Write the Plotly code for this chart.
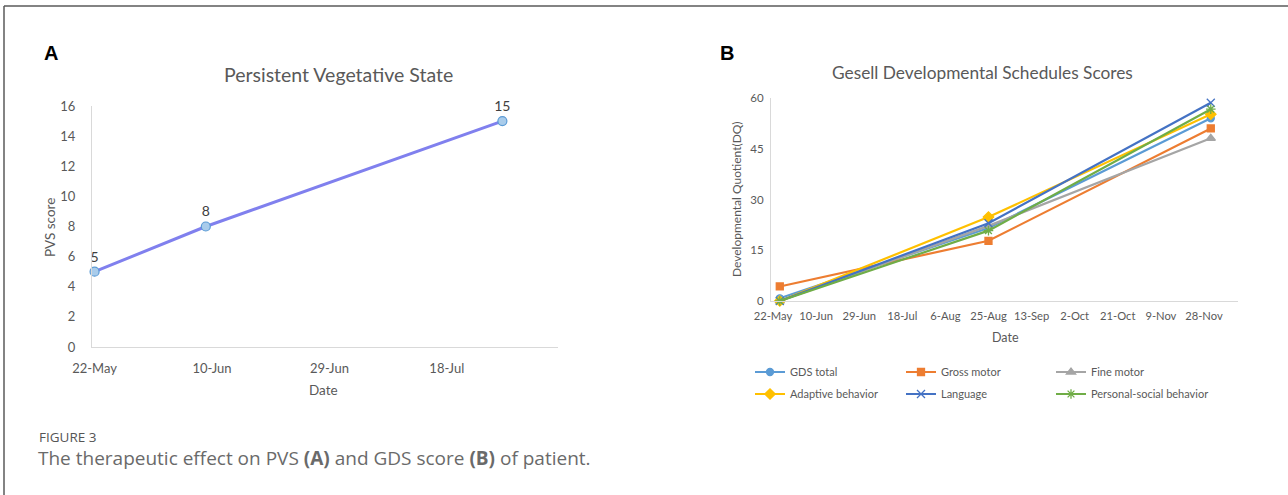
import plotly.graph_objects as go

# ---------------- data ----------------
pvs_dates = ["2021-05-22", "2021-06-09", "2021-07-27"]
pvs_scores = [5, 8, 15]
pvs_tickvals = ["2021-05-22", "2021-06-10", "2021-06-29", "2021-07-18"]
pvs_ticktext = ["22-May", "10-Jun", "29-Jun", "18-Jul"]
pvs_yticks = [0, 2, 4, 6, 8, 10, 12, 14, 16]

gds_dates = ["2021-05-25", "2021-08-25", "2021-12-01"]
gds_total = [0.8, 21.6, 54.0]
gross_motor = [4.3, 17.8, 51.0]
fine_motor = [0.0, 22.2, 48.1]
adaptive_behavior = [0.0, 24.8, 55.2]
language = [0.0, 23.0, 58.6]
personal_social = [0.0, 20.8, 56.7]
gds_tickvals = ["2021-05-22", "2021-06-10", "2021-06-29", "2021-07-18", "2021-08-06",
                "2021-08-25", "2021-09-13", "2021-10-02", "2021-10-21", "2021-11-09",
                "2021-11-28"]
gds_ticktext = ["22-May", "10-Jun", "29-Jun", "18-Jul", "6-Aug", "25-Aug", "13-Sep",
                "2-Oct", "21-Oct", "9-Nov", "28-Nov"]
gds_yticks = [0, 15, 30, 45, 60]

# ---------------- layout helpers ----------------
W, H = 1288, 495
def px(x):
    return x / W
def py(y):
    return 1 - y / H

FONT = "Lato, Calibri, Carlito, sans-serif"
TXT = "#595959"

fig = go.Figure()

# Panel A
fig.add_trace(go.Scatter(
    x=pvs_dates, y=pvs_scores, name="PVS", mode="lines+markers+text",
    text=[str(v) for v in pvs_scores], textposition="top center",
    textfont=dict(family=FONT, size=14, color="#404040"),
    line=dict(color="#8080EE", width=3),
    marker=dict(symbol="circle", size=9, color="#A9CCEB",
                line=dict(color="#5B9BD5", width=1.2)),
    xaxis="x", yaxis="y", legend="legend", cliponaxis=False,
))

# Panel B series: (name, values, colour, marker, size, legend column x, legend row y)
series = [
    ("GDS total", gds_total, "#5B9BD5", "circle", 7, 750, 372),
    ("Gross motor", gross_motor, "#ED7D31", "square", 7, 901, 372),
    ("Fine motor", fine_motor, "#A5A5A5", "triangle-up", 8, 1051, 372),
    ("Adaptive behavior", adaptive_behavior, "#FFC000", "diamond", 8, 750, 394),
    ("Language", language, "#4472C4", "x-thin", 8, 901, 394),
    ("Personal-social behavior", personal_social, "#70AD47", "asterisk", 8, 1051, 394),
]

leg_font = dict(family=FONT, size=11, color=TXT)
legends = {}
for i, (name, vals, col, sym, size, lx, ly) in enumerate(series):
    key = "legend%d" % (i + 2)
    fig.add_trace(go.Scatter(
        x=gds_dates, y=vals, name=name, mode="lines+markers",
        line=dict(color=col, width=2.2),
        marker=dict(symbol=sym, size=size, color=col,
                    line=dict(color=col, width=1.3)),
        xaxis="x2", yaxis="y2", legend=key, cliponaxis=False,
    ))
    legends[key] = dict(x=px(lx), y=py(ly), xanchor="left", yanchor="middle",
                        xref="container", yref="container", orientation="h",
                        bgcolor="rgba(0,0,0,0)", font=leg_font)

def axis_common(size):
    return dict(showgrid=False, zeroline=False, showline=True, automargin=False,
                linecolor="#D9D9D9", linewidth=1, ticks="", tickangle=0,
                tickfont=dict(family=FONT, size=size, color=TXT))

fig.update_layout(
    width=W, height=H, autosize=False,
    margin=dict(l=0, r=0, t=0, b=0, autoexpand=False),
    paper_bgcolor="white", plot_bgcolor="white",
    font=dict(family=FONT, color=TXT),
    xaxis=dict(domain=[px(92), px(558)], type="date",
               range=["2021-05-21 14:00", "2021-08-05"],
               tickmode="array", tickvals=pvs_tickvals, ticktext=pvs_ticktext,
               anchor="y", ticklabelstandoff=9, **axis_common(13)),
    yaxis=dict(domain=[py(347), py(106)], range=[0, 16],
               tickmode="array", tickvals=pvs_yticks,
               anchor="x", ticklabelstandoff=13, **axis_common(13)),
    xaxis2=dict(domain=[px(771), px(1238)], type="date",
                range=["2021-05-21 03:00", "2021-12-13"],
                tickmode="array", tickvals=gds_tickvals, ticktext=gds_ticktext,
                anchor="y2", ticklabelstandoff=5, **axis_common(11.2)),
    yaxis2=dict(domain=[py(301), py(98)], range=[0, 60],
                tickmode="array", tickvals=gds_yticks,
                anchor="x2", ticklabelstandoff=4, **axis_common(11.5)),
    legend=dict(x=px(575), y=py(364), xanchor="left", yanchor="middle",
                xref="container", yref="container",
                orientation="v", bgcolor="rgba(0,0,0,0)",
                font=dict(family=FONT, size=12, color=TXT)),
    **legends,
)

ann = []
def add_text(text, x, y, size, color=TXT, xanchor="center", family=FONT, angle=0):
    ann.append(dict(text=text, x=px(x), y=py(y), xref="paper", yref="paper",
                    xanchor=xanchor, yanchor="middle", showarrow=False,
                    textangle=angle, font=dict(family=family, size=size, color=color)))

add_text("<b>A</b>", 51, 53, 20, color="#000000", family="Liberation Sans, Arial, sans-serif")
add_text("<b>B</b>", 727, 53, 20, color="#000000", family="Liberation Sans, Arial, sans-serif")
add_text("Persistent Vegetative State", 338, 75, 19.5)
add_text("Gesell Developmental Schedules Scores", 982, 72, 17.3)
add_text("PVS score", 50, 227, 13.5, angle=-90)
add_text("Date", 324, 390, 13.5)
add_text("Developmental Quotient(DQ)", 737, 200, 12, angle=-90)
add_text("Date", 1005, 337, 12.5)
add_text("FIGURE 3", 37, 437, 13.5, color="#555555", xanchor="left", family="Open Sans, sans-serif")
add_text("The therapeutic effect on PVS <b>(A)</b> and GDS score <b>(B)</b> of patient.",
         36, 458, 19, color="#6A6A6A", xanchor="left", family="Open Sans, sans-serif")
fig.update_layout(annotations=ann)

# frame lines
fig.add_shape(type="line", xref="paper", yref="paper", x0=px(4), x1=1, y0=py(6), y1=py(6),
              line=dict(color="#5A5A5A", width=1.5))
fig.add_shape(type="line", xref="paper", yref="paper", x0=px(4), x1=px(4), y0=py(6), y1=0,
              line=dict(color="#5A5A5A", width=1.5))

fig.write_html("out.html",
               config={"displayModeBar": False},
               post_script="document.body.style.margin='0';document.body.style.overflow='hidden';")
